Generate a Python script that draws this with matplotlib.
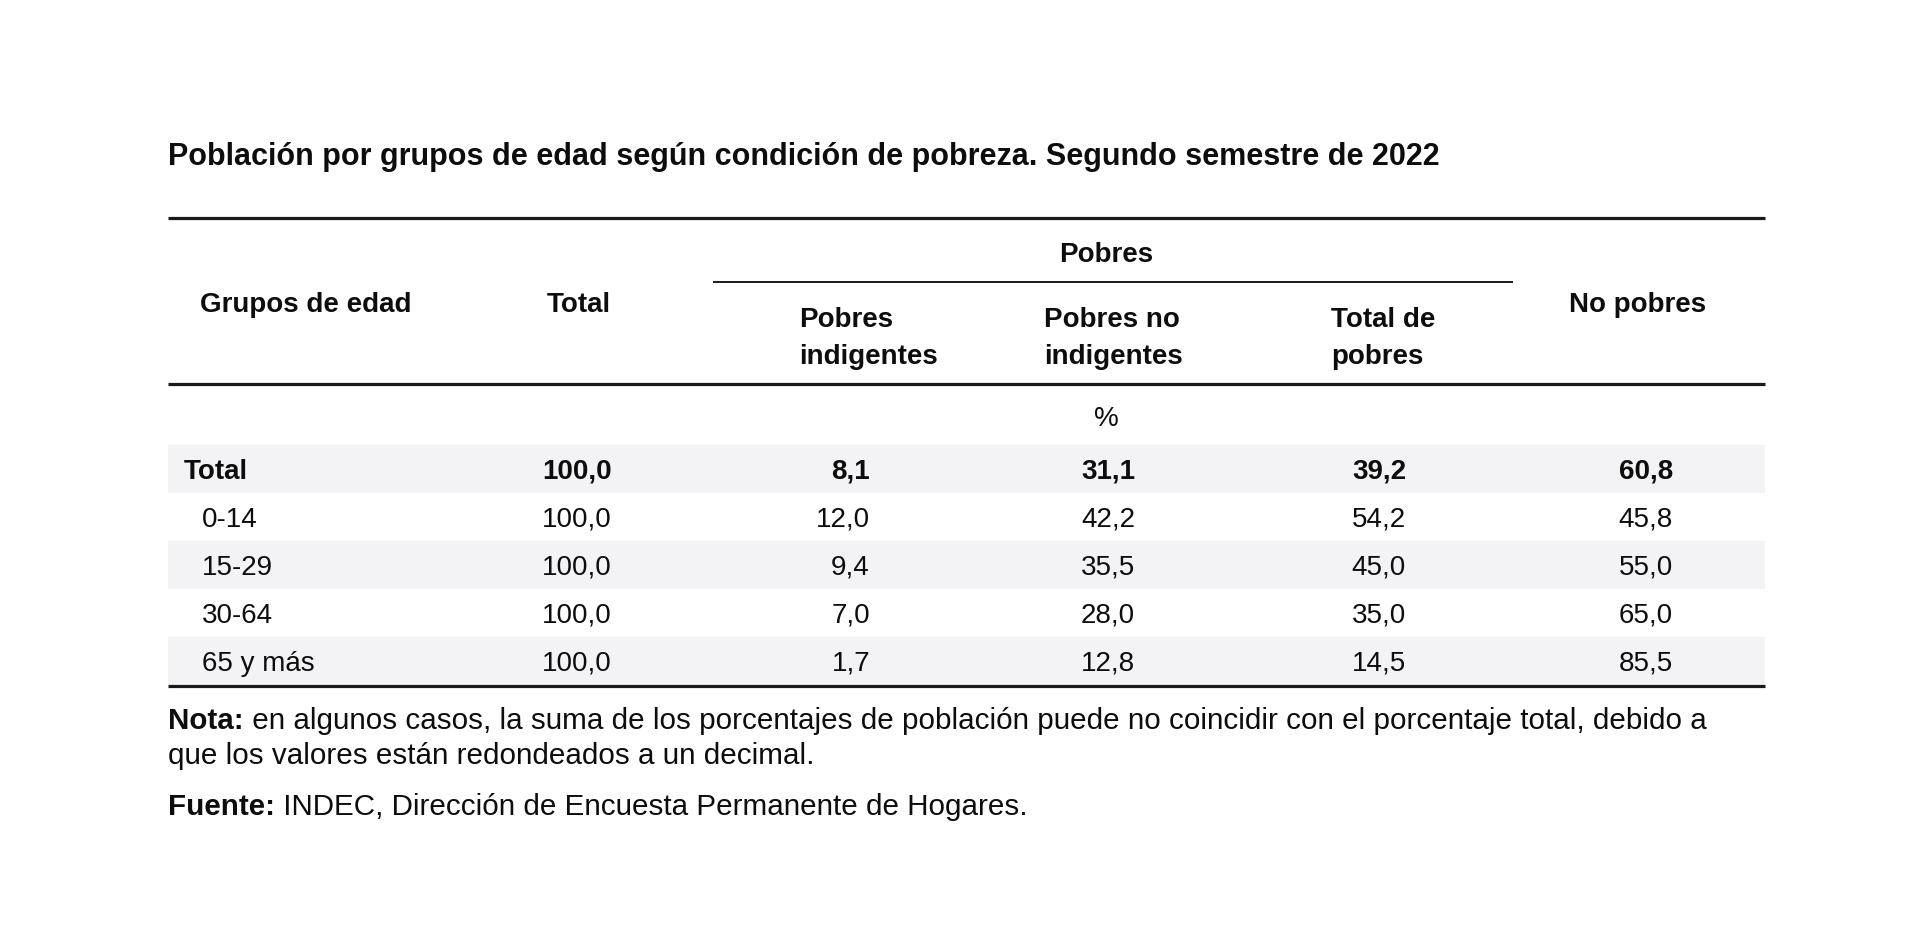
import matplotlib
matplotlib.use("Agg")
import matplotlib.pyplot as plt

# ---------------- data ----------------
title = "Población por grupos de edad según condición de pobreza. Segundo semestre de 2022"
groups = ["Total", "0-14", "15-29", "30-64", "65 y más"]
total = [100.0, 100.0, 100.0, 100.0, 100.0]
pobres_indigentes = [8.1, 12.0, 9.4, 7.0, 1.7]
pobres_no_indigentes = [31.1, 42.2, 35.5, 28.0, 12.8]
total_pobres = [39.2, 54.2, 45.0, 35.0, 14.5]
no_pobres = [60.8, 45.8, 55.0, 65.0, 85.5]
col_headers = ["Grupos de edad", "Total", "Pobres\nindigentes",
               "Pobres no\nindigentes", "Total de\npobres", "No pobres"]
group_header = "Pobres"
unit_label = "%"
nota_1 = "en algunos casos, la suma de los porcentajes de población puede no coincidir con el porcentaje total, debido a"
nota_2 = "que los valores están redondeados a un decimal."
fuente = "INDEC, Dirección de Encuesta Permanente de Hogares."

# ---------------- layout ----------------
W, H = 1920, 946
fig = plt.figure(figsize=(W / 100, H / 100), dpi=100)
ax = fig.add_axes([0, 0, 1, 1])
ax.set_xlim(0, W)
ax.set_ylim(H, 0)
ax.axis("off")

TXT = "#0d0d0d"
BAND = "#f3f3f5"
LINE = "#1a1a1a"
body_font = ["Liberation Sans", "DejaVu Sans"]
FS = 20

x_left, x_right = 168, 1765

# title
ax.text(x_left, 165, title, fontsize=22, fontweight="bold", family=body_font,
        color=TXT, va="baseline", ha="left")

# rules
ax.hlines(218, x_left, x_right, color=LINE, lw=2.3)
ax.hlines(282, 713, 1513, color=LINE, lw=1.4)
ax.hlines(384, x_left, x_right, color=LINE, lw=2.3)

# header texts
ax.text(1106, 262, group_header, fontsize=FS, fontweight="bold", family=body_font,
        color=TXT, ha="center", va="baseline")
ax.text(200, 312, col_headers[0], fontsize=FS, fontweight="bold", family=body_font,
        color=TXT, ha="left", va="baseline")
ax.text(579, 312, col_headers[1], fontsize=FS, fontweight="bold", family=body_font,
        color=TXT, ha="center", va="baseline")
for hx, lab in zip([799, 1044, 1331], col_headers[2:5]):
    l1, l2 = lab.split("\n")
    ax.text(hx, 327, l1, fontsize=FS, fontweight="bold", family=body_font,
            color=TXT, ha="left", va="baseline")
    ax.text(hx, 364, l2, fontsize=FS, fontweight="bold", family=body_font,
            color=TXT, ha="left", va="baseline")
ax.text(1638, 312, col_headers[5], fontsize=FS, fontweight="bold", family=body_font,
        color=TXT, ha="center", va="baseline")
ax.text(1106, 426, unit_label, fontsize=FS, family=body_font, color=TXT,
        ha="center", va="baseline")

# body
row0, row_h = 469, 48
n = len(groups)
centers = [row0 + i * row_h for i in range(n)]
shade_rows = [i for i in range(n) if i % 2 == 0]
ax.barh([centers[i] for i in shade_rows], x_right - x_left, left=x_left,
        height=row_h, color=BAND, zorder=0)

def fmt(v):
    return f"{v:.1f}".replace(".", ",")

col_right = [612, 870, 1135, 1406, 1673]
series = [total, pobres_indigentes, pobres_no_indigentes, total_pobres, no_pobres]
for i, g in enumerate(groups):
    yb = centers[i] + 9.5
    bold = (i == 0)
    ax.text(184 if bold else 202, yb, g, fontsize=FS,
            fontweight="bold" if bold else "normal", family=body_font,
            color=TXT, ha="left", va="baseline")
    for xr, s in zip(col_right, series):
        ax.text(xr, yb, fmt(s[i]), fontsize=FS,
                fontweight="bold" if bold else "normal", family=body_font,
                color=TXT, ha="right", va="baseline")

ax.hlines(686, x_left, x_right, color=LINE, lw=2.3)

# notes
NFS = 21.3
t = ax.text(x_left, 729, "Nota:", fontsize=NFS, fontweight="bold", family=body_font,
            color=TXT, ha="left", va="baseline")
ax.annotate(" " + nota_1, xycoords=t, xy=(1, 0), va="bottom", ha="left",
            fontsize=NFS, family=body_font, color=TXT)
ax.text(x_left, 764, nota_2, fontsize=NFS, family=body_font, color=TXT,
        ha="left", va="baseline")
t2 = ax.text(x_left, 815, "Fuente:", fontsize=NFS, fontweight="bold", family=body_font,
             color=TXT, ha="left", va="baseline")
ax.annotate(" " + fuente, xycoords=t2, xy=(1, 0), va="bottom", ha="left",
            fontsize=NFS, family=body_font, color=TXT)

fig.savefig("out.png", dpi=100, facecolor="white")
